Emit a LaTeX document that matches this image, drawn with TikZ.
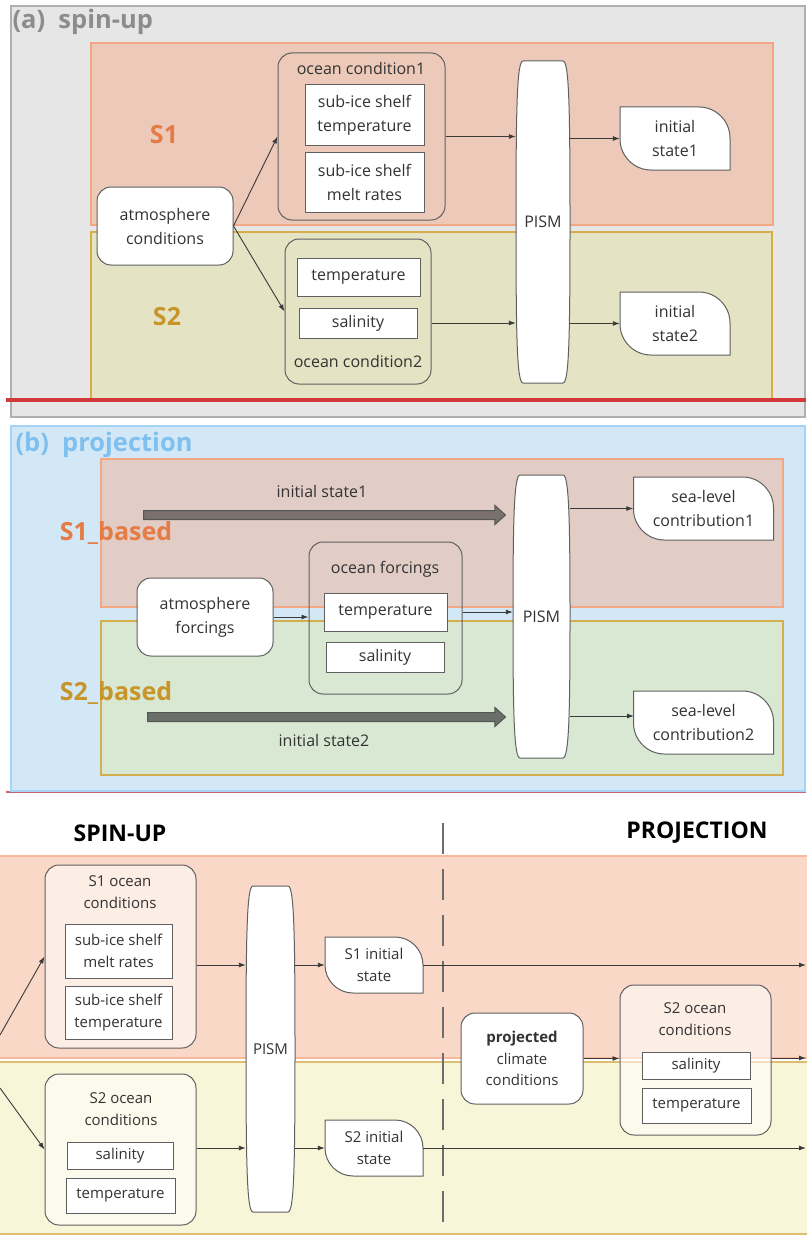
\documentclass[tikz,border=0pt]{standalone}
\usepackage{fontspec}
\setmainfont{Open Sans}
\usetikzlibrary{positioning,arrows.meta,shapes.arrows}

\definecolor{linegray}{HTML}{606060}
\definecolor{arrowgray}{HTML}{3A3A3A}
\definecolor{textgray}{HTML}{333333}
\definecolor{panelAfill}{HTML}{E6E6E6}
\definecolor{panelAdraw}{HTML}{AFAFAF}
\definecolor{titleAcol}{HTML}{8C8C8C}
\definecolor{panelBfill}{HTML}{D3E8F6}
\definecolor{panelBdraw}{HTML}{A6D2F3}
\definecolor{titleBcol}{HTML}{80C0EE}
\definecolor{redline}{HTML}{D2373C}
\definecolor{sOnefillA}{HTML}{ECC9B8}
\definecolor{sTwofillA}{HTML}{E4E3C3}
\definecolor{sOnefillB}{HTML}{E1CDC5}
\definecolor{sTwofillB}{HTML}{D8E8D3}
\definecolor{sOnefillC}{HTML}{FAD8C7}
\definecolor{sTwofillC}{HTML}{F8F6D8}
\definecolor{sOnedraw}{HTML}{F4A783}
\definecolor{sTwodraw}{HTML}{D5AE4C}
\definecolor{sOnelabel}{HTML}{E57B45}
\definecolor{sTwolabel}{HTML}{C8952A}
\definecolor{bigAfill}{HTML}{7A706C}
\definecolor{bigBfill}{HTML}{6B6F69}
\definecolor{bigline}{HTML}{555555}
\definecolor{dashgray}{HTML}{6D6D6D}

% leaf shaped state box: centre x, centre y, width, height, radius
\newcommand{\leafshape}[5]{%
  \pgfmathsetmacro{\lfL}{#1-#3/2}\pgfmathsetmacro{\lfR}{#1+#3/2}%
  \pgfmathsetmacro{\lfT}{#2-#4/2}\pgfmathsetmacro{\lfB}{#2+#4/2}%
  \draw[nodeline,fill=white] (\lfL,\lfT) -- ({\lfR-#5},\lfT)
    .. controls ({\lfR-0.45*#5},\lfT) and (\lfR,{\lfT+0.45*#5}) .. (\lfR,{\lfT+#5})
    -- (\lfR,\lfB) -- ({\lfL+#5},\lfB)
    .. controls ({\lfL+0.45*#5},\lfB) and (\lfL,{\lfB-0.45*#5}) .. (\lfL,{\lfB-#5})
    -- cycle;}

% barrel shaped model box: centre x, centre y, width, height
\newcommand{\pismshape}[4]{%
  \pgfmathsetmacro{\psL}{#1-#3/2}\pgfmathsetmacro{\psR}{#1+#3/2}%
  \pgfmathsetmacro{\psT}{#2-#4/2}\pgfmathsetmacro{\psB}{#2+#4/2}%
  \draw[nodeline,fill=white] ({\psL+7},\psT) -- ({\psR-7},\psT)
    .. controls ({\psR-1},\psT) and (\psR,{\psT+45}) .. (\psR,#2)
    .. controls (\psR,{\psB-45}) and ({\psR-1},\psB) .. ({\psR-7},\psB)
    -- ({\psL+7},\psB)
    .. controls ({\psL+1},\psB) and (\psL,{\psB-45}) .. (\psL,#2)
    .. controls (\psL,{\psT+45}) and ({\psL+1},\psT) .. ({\psL+7},\psT)
    -- cycle;}

\begin{document}
\begin{tikzpicture}[x=1pt,y=-1pt,
    nodeline/.style={draw=linegray, line width=1pt},
    roundbox/.style={nodeline, rectangle, rounded corners=14pt, fill=white, align=center, inner sep=0pt, text=textgray},
    groupbox/.style={nodeline, rectangle, rounded corners=14pt, inner sep=0pt},
    itembox/.style={nodeline, rectangle, fill=white, align=center, inner sep=0pt, text=textgray},
    shapetext/.style={rectangle, align=center, inner sep=0pt, text=textgray},
    conn/.style={draw=arrowgray, line width=0.9pt, -{Latex[length=7pt,width=5pt]}},
    fontab/.style={font=\fontsize{16}{24}\selectfont},
    fontc/.style={font=\fontsize{15}{21.5}\selectfont},
    bandlabel/.style={font=\fontsize{25}{30}\selectfont\bfseries},
    paneltitle/.style={font=\fontsize{25.5}{30}\selectfont\bfseries, anchor=west},
    heading/.style={font=\fontsize{23}{28}\selectfont\bfseries},
    bigarrow/.style={single arrow, draw=bigline, line width=1pt, inner sep=4pt,
      single arrow head extend=5pt, single arrow tip angle=84},
  ]
  \useasboundingbox (0,0) rectangle (806,1236);

  %% (a) spin-up
  \draw[fill=panelAfill, draw=panelAdraw, line width=1.5pt] (11,6) rectangle (805,417);
  \node[paneltitle, text=titleAcol] (titA) at (9,22) {(a)\ \ spin-up};
  \draw[fill=sOnefillA, draw=sOnedraw, line width=1.5pt] (91,43) rectangle (773,225);
  \draw[fill=sTwofillA, draw=sTwodraw, line width=1.5pt] (91,232) rectangle (772,399);
  \node[bandlabel, text=sOnelabel] (labA1) at (164,135) {S1};
  \node[bandlabel, text=sTwolabel] (labA2) at (167,317) {S2};

  \node[roundbox, fontab, minimum width=136, minimum height=78] (atmA) at (165,226) {atmosphere\\conditions};
  \node[groupbox, minimum width=167, minimum height=167] (oc1A) at (361.5,136.5) {};
  \node[shapetext, fontab] (oc1Alab) at (361,69) {ocean condition1};
  \node[itembox, fontab, minimum width=119, minimum height=60] (tempA1) at (364.5,115) {sub-ice shelf\\temperature};
  \node[itembox, fontab, minimum width=119, minimum height=60] (meltA) at (364.5,182) {sub-ice shelf\\melt rates};
  \node[groupbox, minimum width=146, minimum height=145] (oc2A) at (358,311.5) {};
  \node[itembox, fontab, minimum width=123, minimum height=38] (tempA2) at (358.5,277) {temperature};
  \node[itembox, fontab, minimum width=118, minimum height=30] (salA) at (358,323) {salinity};
  \node[shapetext, fontab] (oc2Alab) at (358,361) {ocean condition2};

  \pismshape{543}{222}{54}{322}
  \node[shapetext, fontab, minimum width=54, minimum height=322] (pismA) at (543,222) {PISM};
  \leafshape{675}{138.5}{110}{63}{31}
  \node[shapetext, fontab, minimum width=110, minimum height=63] (init1) at (675,138.5) {initial\\state1};
  \leafshape{675}{323.5}{110}{63}{31}
  \node[shapetext, fontab, minimum width=110, minimum height=63] (init2) at (675,323.5) {initial\\state2};

  \draw[conn] (atmA.east) -- (oc1A.west);
  \draw[conn] (atmA.east) -- (oc2A.west);
  \draw[conn] (oc1A.east) -- (oc1A.east -| pismA.west);
  \draw[conn] (salA -| oc2A.east) -- (salA -| pismA.west);
  \draw[conn] (init1.west -| pismA.east) -- (init1.west);
  \draw[conn] (init2.west -| pismA.east) -- (init2.west);

  \draw[redline, line width=4pt] (6,400) -- (806,400);

  %% (b) projection
  \draw[redline!70!panelBdraw, line width=1.5pt] (6,792) -- (806,792);
  \draw[fill=panelBfill, draw=panelBdraw, line width=1.5pt] (11,426) rectangle (805,791);
  \node[paneltitle, text=titleBcol] (titB) at (12,445) {(b)\ \ projection};
  \draw[fill=sOnefillB, draw=sOnedraw, line width=1.5pt] (101,459) rectangle (783,607);
  \draw[fill=sTwofillB, draw=sTwodraw, line width=1.5pt] (101,621) rectangle (783,775);
  \node[bandlabel, text=sOnelabel] (labB1) at (116,533) {S1\_based};
  \node[bandlabel, text=sTwolabel] (labB2) at (116,693) {S2\_based};

  \node[bigarrow, fill=bigAfill, minimum height=362] (big1) at (322,515) {};
  \node[shapetext, fontab, above=12pt of big1] (big1lab) {initial state1};
  \node[bigarrow, fill=bigBfill, minimum height=358] (big2) at (324,717) {};
  \node[shapetext, fontab, below=12pt of big2] (big2lab) {initial state2};

  \node[roundbox, fontab, minimum width=136, minimum height=78] (atmB) at (205,617) {atmosphere\\forcings};
  \node[groupbox, minimum width=153, minimum height=152] (ocfB) at (385.5,618) {};
  \node[shapetext, fontab] (ocfBlab) at (385,569) {ocean forcings};
  \node[itembox, fontab, minimum width=123, minimum height=38] (tempB) at (385.5,612) {temperature};
  \node[itembox, fontab, minimum width=118, minimum height=30] (salB) at (385,657) {salinity};

  \pismshape{541.5}{616.5}{57}{283}
  \node[shapetext, fontab, minimum width=57, minimum height=283] (pismB) at (541.5,616.5) {PISM};
  \leafshape{703.5}{508.5}{140}{63}{31}
  \node[shapetext, fontab, minimum width=140, minimum height=63] (sl1) at (703.5,508.5) {sea-level\\contribution1};
  \leafshape{703.5}{722.5}{140}{63}{31}
  \node[shapetext, fontab, minimum width=140, minimum height=63] (sl2) at (703.5,722.5) {sea-level\\contribution2};
  \coordinate (sl2in) at (634,716);

  \draw[conn] (atmB.east) -- (atmB.east -| ocfB.west);
  \draw[conn] (tempB -| ocfB.east) -- (tempB -| pismB.west);
  \draw[conn] (sl1.west -| pismB.east) -- (sl1.west);
  \draw[conn] (sl2in -| pismB.east) -- (sl2in);

  %% spin-up / projection timeline
  \node[heading] (headSU) at (120,833) {SPIN-UP};
  \node[heading] (headPR) at (697,833) {PROJECTION};
  \draw[fill=sOnefillC, draw=sOnedraw!80!white, line width=1.5pt] (-2,856) rectangle (808,1058);
  \draw[fill=sTwofillC, draw=sTwodraw!80!white, line width=1.5pt] (-2,1062) rectangle (808,1234);
  \draw[dashgray, line width=2.3pt, dash pattern=on 31pt off 15pt] (443,823) -- (443,1230);

  \node[groupbox, fill=white, fill opacity=0.55, minimum width=151, minimum height=183] (s1oc) at (120.5,956.5) {};
  \node[shapetext, fontc] (s1oclab) at (120,892) {S1 ocean\\conditions};
  \node[itembox, fontc, minimum width=107, minimum height=54] (s1melt) at (118.5,951) {sub-ice shelf\\melt rates};
  \node[itembox, fontc, minimum width=107, minimum height=53] (s1temp) at (118.5,1012.5) {sub-ice shelf\\temperature};
  \node[groupbox, fill=white, fill opacity=0.55, minimum width=151, minimum height=151] (s2oc) at (120.5,1149.5) {};
  \node[shapetext, fontc] (s2oclab) at (121,1109) {S2 ocean\\conditions};
  \node[itembox, fontc, minimum width=106, minimum height=27] (s2sal) at (120,1155.5) {salinity};
  \node[itembox, fontc, minimum width=109, minimum height=35] (s2temp) at (120.5,1195.5) {temperature};

  \pismshape{270.5}{1049}{49}{326}
  \node[shapetext, fontc, minimum width=49, minimum height=326] (pismC) at (270.5,1049) {PISM};
  \leafshape{374}{965}{98}{56}{28}
  \node[shapetext, fontc, minimum width=98, minimum height=56] (s1init) at (374,965) {S1 initial\\state};
  \leafshape{374}{1148}{98}{56}{28}
  \node[shapetext, fontc, minimum width=98, minimum height=56] (s2init) at (374,1148) {S2 initial\\state};

  \node[roundbox, fontc, minimum width=122, minimum height=91] (proj) at (522,1058.5) {\textbf{projected}\\climate\\conditions};
  \node[groupbox, fill=white, fill opacity=0.55, minimum width=151, minimum height=150] (s2ocR) at (695.5,1060) {};
  \node[shapetext, fontc] (s2ocRlab) at (695,1019) {S2 ocean\\conditions};
  \node[itembox, fontc, minimum width=108, minimum height=27] (salR) at (696,1066) {salinity};
  \node[itembox, fontc, minimum width=109, minimum height=35] (tempR) at (696.5,1105.5) {temperature};

  \coordinate (inS1) at (0,1035);
  \coordinate (inS2) at (0,1088);
  \coordinate (outS1) at (806,965);
  \coordinate (outS2) at (806,1148);
  \coordinate (outR) at (806,1058);

  \draw[conn] (inS1) -- (s1oc.west);
  \draw[conn] (inS2) -- (s2oc.west);
  \draw[conn] (s1init -| s1oc.east) -- (s1init -| pismC.west);
  \draw[conn] (s2init -| s2oc.east) -- (s2init -| pismC.west);
  \draw[conn] (s1init -| pismC.east) -- (s1init.west);
  \draw[conn] (s2init -| pismC.east) -- (s2init.west);
  \draw[conn] (s1init.east) -- (outS1);
  \draw[conn] (s2init.east) -- (outS2);
  \draw[conn] (proj.east) -- (proj.east -| s2ocR.west);
  \draw[conn] (outR -| s2ocR.east) -- (outR);
\end{tikzpicture}
\end{document}
